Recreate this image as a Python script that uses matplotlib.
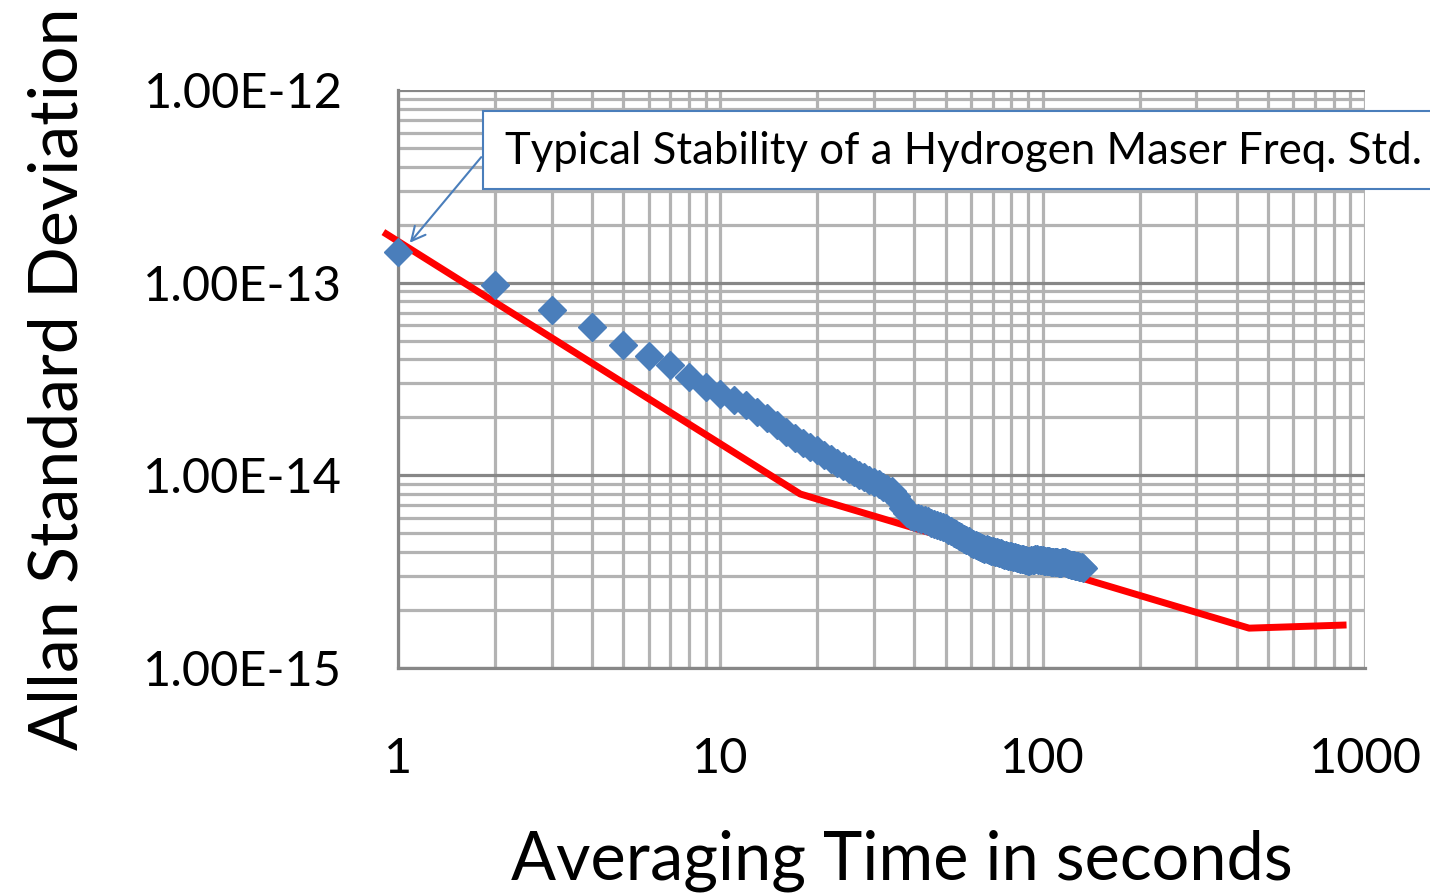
import matplotlib
matplotlib.use("Agg")
import matplotlib.pyplot as plt
from matplotlib.ticker import LogLocator, NullFormatter
from matplotlib.patches import Rectangle

# measured Allan deviation, one point per second of averaging time
tau = list(range(1, 134))
adev = [
    1.44e-13, 9.7e-14, 7.2e-14, 5.9e-14, 4.75e-14, 4.17e-14, 3.74e-14, 3.23e-14, 2.87e-14, 2.64e-14,
    2.46e-14, 2.32e-14, 2.14e-14, 1.98e-14, 1.83e-14, 1.68e-14, 1.56e-14, 1.47e-14, 1.40e-14, 1.35e-14,
    1.28e-14, 1.22e-14, 1.16e-14, 1.12e-14, 1.08e-14, 1.04e-14, 1.005e-14, 9.8e-15, 9.46e-15, 9.24e-15,
    8.97e-15, 8.7e-15, 8.5e-15, 8.3e-15, 7.8e-15, 7.28e-15, 6.77e-15, 6.38e-15, 6.15e-15, 6.05e-15,
    5.97e-15, 5.9e-15, 5.83e-15, 5.77e-15, 5.66e-15, 5.6e-15, 5.53e-15, 5.46e-15, 5.4e-15, 5.3e-15,
    5.2e-15, 5.12e-15, 5.02e-15, 4.94e-15, 4.85e-15, 4.76e-15, 4.68e-15, 4.62e-15, 4.54e-15, 4.46e-15,
    4.41e-15, 4.35e-15, 4.3e-15, 4.25e-15, 4.2e-15, 4.17e-15, 4.15e-15, 4.1e-15, 4.07e-15, 4.05e-15,
    4.0e-15, 3.98e-15, 3.96e-15, 3.93e-15, 3.9e-15, 3.88e-15, 3.86e-15, 3.83e-15, 3.82e-15, 3.8e-15,
    3.78e-15, 3.76e-15, 3.74e-15, 3.72e-15, 3.70e-15, 3.68e-15, 3.66e-15, 3.64e-15, 3.62e-15, 3.60e-15,
    3.60e-15, 3.62e-15, 3.63e-15, 3.65e-15, 3.66e-15, 3.66e-15, 3.65e-15, 3.64e-15, 3.63e-15, 3.62e-15,
    3.61e-15, 3.60e-15, 3.59e-15, 3.58e-15, 3.58e-15, 3.57e-15, 3.56e-15, 3.55e-15, 3.54e-15, 3.53e-15,
    3.53e-15, 3.52e-15, 3.51e-15, 3.52e-15, 3.54e-15, 3.55e-15, 3.54e-15, 3.52e-15, 3.49e-15, 3.47e-15,
    3.45e-15, 3.44e-15, 3.43e-15, 3.42e-15, 3.41e-15, 3.40e-15, 3.39e-15, 3.38e-15, 3.37e-15, 3.36e-15,
    3.35e-15, 3.33e-15, 3.31e-15,
]

# typical hydrogen maser spec line
spec_tau = [0.92, 17.7, 437, 855]
spec_adev = [1.79e-13, 8.0e-15, 1.61e-15, 1.67e-15]

x_ticks = [1, 10, 100, 1000]
x_labels = ["1", "10", "100", "1000"]
y_ticks = [1e-15, 1e-14, 1e-13, 1e-12]
y_labels = ["1.00E-15", "1.00E-14", "1.00E-13", "1.00E-12"]

note = "Typical Stability of a Hydrogen Maser Freq. Std."

plt.rcParams["font.family"] = ["Lato", "DejaVu Sans"]

W, H = 1430, 894
fig = plt.figure(figsize=(W / 100, H / 100), dpi=100)
ax = fig.add_axes([398 / W, 1 - 668 / H, 967 / W, 578 / H])

ax.set_xscale("log")
ax.set_yscale("log")
ax.set_xlim(1, 1000)
ax.set_ylim(1e-15, 1e-12)

light = "#b3b3b3"
dark = "#878787"
ax.xaxis.set_minor_locator(LogLocator(base=10, subs=range(2, 10)))
ax.yaxis.set_minor_locator(LogLocator(base=10, subs=range(2, 10)))
ax.xaxis.set_minor_formatter(NullFormatter())
ax.yaxis.set_minor_formatter(NullFormatter())
ax.grid(True, axis="x", which="both", color=light, lw=2.3)
ax.grid(True, axis="y", which="minor", color=light, lw=2.3)
ax.grid(True, axis="y", which="major", color=dark, lw=2.3)
ax.set_axisbelow(True)

for s in ["top", "right"]:
    ax.spines[s].set_visible(False)
for s in ["left", "bottom"]:
    ax.spines[s].set_color(dark)
    ax.spines[s].set_linewidth(2.3)

ax.set_xticks(x_ticks)
ax.set_xticklabels(x_labels)
ax.set_yticks(y_ticks)
ax.set_yticklabels(y_labels)
ax.tick_params(which="both", length=0)
ax.tick_params(axis="y", pad=40, labelsize=35)
ax.tick_params(axis="x", pad=50, labelsize=35)

ax.plot(spec_tau, spec_adev, color="#ff0000", lw=5, clip_on=False, zorder=3)
ax.plot(tau, adev, ls="none", marker="D", ms=14, color="#4a7ebb", mec="#4a7ebb", zorder=4, clip_on=False)

# callout box
fig.patches.append(Rectangle((483 / W, 1 - 189 / H), 1000 / W, 78 / H, transform=fig.transFigure,
                             facecolor="white", edgecolor="#4a7ebb", lw=1.5, zorder=5))
fig.text(505 / W, 1 - 152 / H, note, fontsize=31.5, va="center", ha="left", zorder=6)
ax.annotate("", xy=(1.074, 1.57e-13), xycoords="data",
            xytext=(483 / W, 1 - 155 / H), textcoords="figure fraction",
            arrowprops=dict(arrowstyle="->", color="#4a7ebb", lw=1.5, mutation_scale=25),
            zorder=6, annotation_clip=False)

fig.text(78 / W, 1 - 379 / H, "Allan Standard Deviation", rotation=90, rotation_mode="anchor",
         ha="center", va="baseline", fontsize=49)
fig.text(902 / W, 2 / H, "Averaging Time in seconds", ha="center", va="bottom", fontsize=48)

fig.savefig("out.png", dpi=100)
